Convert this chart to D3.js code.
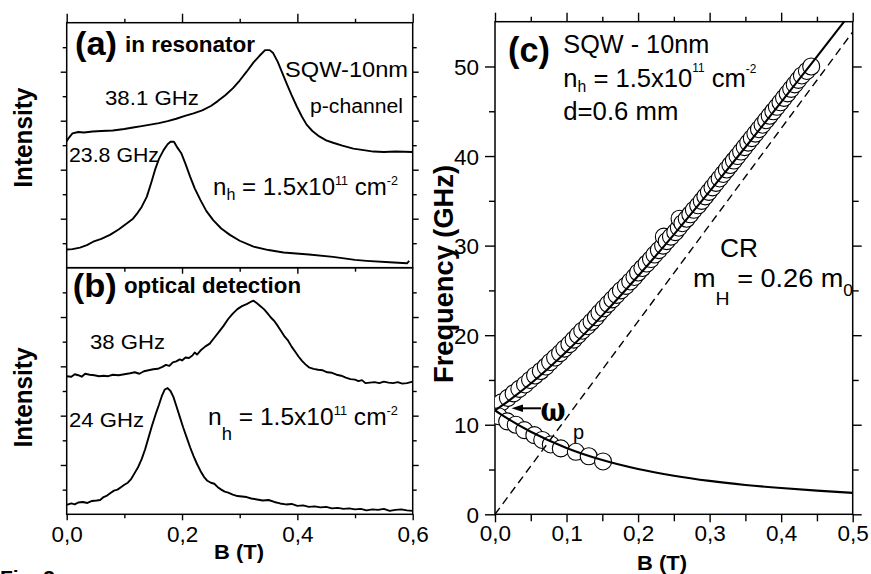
<!DOCTYPE html>
<html><head><meta charset="utf-8">
<script src="https://cdn.jsdelivr.net/npm/d3@7"></script>
<style>
body{margin:0;background:#fff}
svg{display:block}
text{font-family:"Liberation Sans",Arial,Helvetica,sans-serif;fill:#000}
</style></head><body>
<svg id="chart" width="871" height="574"></svg>
<script>
// ---------------- DATA ----------------
const bTicksLeft = [0, 0.2, 0.4, 0.6];
const bMinorLeft = [0.1, 0.3, 0.5];
const bTicksRight = [0, 0.1, 0.2, 0.3, 0.4, 0.5];
const bMinorRight = [0.05, 0.15, 0.25, 0.35, 0.45];
const freqTicks = [0, 10, 20, 30, 40, 50];
const freqMinor = [5, 15, 25, 35, 45];
const intMajor = [1, 2, 3, 4];
const intMinor = [0.5, 1.5, 2.5, 3.5, 4.5];

// (a) in resonator, 38.1 GHz
const a381B = [0.000,0.003,0.010,0.020,0.030,0.045,0.060,0.080,0.100,0.115,0.130,0.145,0.160,0.175,0.190,0.205,0.220,0.235,0.250,0.262,0.275,0.288,0.300,0.312,0.324,0.334,0.344,0.352,0.358,0.366,0.374,0.382,0.390,0.399,0.408,0.416,0.426,0.438,0.450,0.462,0.478,0.497,0.515,0.532,0.550,0.570,0.600];
const a381I = [2.58,2.64,2.74,2.77,2.76,2.78,2.79,2.80,2.83,2.86,2.89,2.92,2.95,2.99,3.04,3.10,3.15,3.21,3.30,3.40,3.52,3.66,3.82,4.00,4.19,4.32,4.44,4.44,4.38,4.20,3.97,3.74,3.52,3.29,3.08,2.92,2.79,2.68,2.60,2.55,2.49,2.43,2.40,2.37,2.36,2.37,2.36];
// (a) in resonator, 23.8 GHz
const a238B = [0.000,0.010,0.023,0.035,0.046,0.060,0.075,0.090,0.104,0.115,0.123,0.130,0.139,0.147,0.153,0.160,0.168,0.175,0.180,0.186,0.192,0.199,0.206,0.214,0.222,0.232,0.242,0.254,0.268,0.283,0.300,0.324,0.350,0.376,0.420,0.462,0.500,0.520,0.560,0.590,0.594];
const a238I = [0.37,0.38,0.41,0.46,0.53,0.59,0.67,0.78,0.90,1.00,1.12,1.24,1.45,1.75,1.99,2.22,2.40,2.52,2.57,2.57,2.45,2.33,2.12,1.86,1.62,1.38,1.16,0.97,0.80,0.67,0.55,0.43,0.36,0.31,0.27,0.22,0.16,0.14,0.11,0.09,0.14];
// (b) optical detection, 38 GHz
const b38B = [0.000,0.008,0.014,0.020,0.026,0.032,0.040,0.048,0.056,0.064,0.072,0.080,0.090,0.100,0.110,0.118,0.126,0.134,0.142,0.150,0.158,0.166,0.172,0.178,0.184,0.190,0.196,0.200,0.206,0.212,0.218,0.222,0.226,0.232,0.240,0.248,0.256,0.264,0.272,0.280,0.288,0.296,0.304,0.312,0.318,0.324,0.330,0.336,0.342,0.348,0.354,0.360,0.366,0.372,0.378,0.384,0.390,0.396,0.402,0.408,0.414,0.420,0.428,0.436,0.444,0.452,0.460,0.468,0.476,0.484,0.492,0.500,0.506,0.512,0.518,0.526,0.534,0.542,0.550,0.558,0.566,0.574,0.582,0.590,0.600];
const b38I = [2.80,2.79,2.84,2.82,2.79,2.85,2.83,2.82,2.80,2.81,2.80,2.83,2.82,2.84,2.86,2.88,2.85,2.90,2.92,2.94,2.95,2.99,3.03,3.01,3.08,3.10,3.14,3.12,3.18,3.17,3.22,3.28,3.24,3.32,3.40,3.46,3.58,3.70,3.82,3.96,4.07,4.16,4.22,4.26,4.30,4.33,4.28,4.22,4.16,4.08,3.99,3.92,3.82,3.71,3.60,3.52,3.40,3.30,3.20,3.11,3.04,2.98,2.95,2.93,2.92,2.88,2.87,2.83,2.81,2.77,2.74,2.73,2.70,2.72,2.66,2.67,2.68,2.66,2.69,2.67,2.66,2.68,2.65,2.66,2.69];
// (b) optical detection, 24 GHz
const b24B = [0.000,0.008,0.014,0.020,0.028,0.036,0.044,0.052,0.058,0.064,0.070,0.076,0.082,0.088,0.094,0.100,0.106,0.112,0.118,0.124,0.130,0.136,0.142,0.148,0.154,0.160,0.165,0.170,0.175,0.180,0.185,0.190,0.196,0.202,0.208,0.214,0.220,0.226,0.232,0.238,0.244,0.250,0.256,0.262,0.268,0.274,0.280,0.288,0.296,0.304,0.312,0.320,0.330,0.340,0.350,0.360,0.370,0.380,0.390,0.400,0.410,0.420,0.430,0.440,0.450,0.460,0.470,0.480,0.490,0.500,0.510,0.520,0.530,0.540,0.550,0.560,0.570,0.580,0.590,0.600];
const b24I = [0.19,0.22,0.20,0.24,0.25,0.23,0.27,0.28,0.29,0.35,0.38,0.43,0.48,0.50,0.55,0.60,0.64,0.72,0.84,0.96,1.12,1.32,1.56,1.80,2.02,2.22,2.40,2.53,2.56,2.50,2.38,2.20,1.98,1.76,1.56,1.36,1.18,1.02,0.88,0.76,0.68,0.64,0.62,0.55,0.50,0.46,0.44,0.40,0.37,0.36,0.35,0.32,0.30,0.28,0.29,0.25,0.22,0.20,0.21,0.17,0.18,0.15,0.16,0.14,0.15,0.12,0.13,0.11,0.12,0.10,0.11,0.08,0.10,0.09,0.11,0.07,0.09,0.10,0.08,0.07];

// (c) measured resonance positions, upper branch
const upB = [0.004,0.009,0.018,0.026,0.034,0.042,0.049,0.056,0.064,0.071,0.077,0.084,0.091,0.097,0.104,0.110,0.116,0.122,0.129,0.135,0.141,0.146,0.152,0.158,0.164,0.170,0.176,0.183,0.189,0.195,0.200,0.206,0.212,0.218,0.223,0.229,0.235,0.236,0.240,0.246,0.252,0.257,0.258,0.262,0.268,0.273,0.278,0.284,0.289,0.294,0.299,0.304,0.309,0.314,0.319,0.324,0.329,0.334,0.339,0.344,0.349,0.354,0.359,0.364,0.369,0.374,0.379,0.384,0.389,0.394,0.399,0.404,0.409,0.414,0.419,0.424,0.429,0.436,0.442];
const upF = [12.2,12.5,13.0,13.5,14.0,14.5,15.0,15.5,16.0,16.5,17.0,17.5,18.0,18.5,19.0,19.5,20.0,20.5,21.0,21.5,22.0,22.5,23.0,23.5,24.0,24.5,25.0,25.5,26.0,26.5,27.0,27.5,28.0,28.5,29.0,29.5,30.0,31.0,30.5,31.0,31.5,32.0,33.0,32.5,33.0,33.5,34.0,34.5,35.0,35.5,36.0,36.5,37.0,37.5,38.0,38.5,39.0,39.5,40.0,40.5,41.0,41.5,42.0,42.5,43.0,43.5,44.0,44.5,45.0,45.5,46.0,46.5,47.0,47.5,48.0,48.5,49.0,49.5,50.0];
// (c) measured resonance positions, lower branch
const loB = [0.005,0.017,0.029,0.041,0.055,0.066,0.078,0.092,0.113,0.131,0.151];
const loF = [10.95,10.38,10.0,9.4,8.84,8.3,7.8,7.36,6.98,6.48,5.9];
// (c) fitted magnetoplasma branches
const fitUpB = [0,0.01,0.02,0.05,0.1,0.15,0.2,0.25,0.3,0.35,0.4,0.45,0.488];
const fitUpF = [11.6,12.15,12.73,14.6,18.17,22.21,26.6,31.23,36.05,40.98,46.01,51.1,55.0];
const fitLoB = [0,0.01,0.02,0.05,0.1,0.15,0.2,0.25,0.3,0.35,0.4,0.45,0.5];
const fitLoF = [11.6,11.07,10.57,9.22,7.41,6.06,5.06,4.31,3.73,3.28,2.93,2.64,2.39];
// (c) cyclotron resonance line, m_H = 0.26 m0
const crB = [0, 0.5];
const crF = [0, 53.85];

// ---------------- DRAWING ----------------
const svg = d3.select("#chart");
svg.append("rect").attr("width", 871).attr("height", 574).attr("fill", "#fff");
const fmtComma = d => d3.format(".1f")(d).replace(".", ",");
const pairs = (a, b) => a.slice(0, Math.min(a.length, b.length)).map((v, i) => [v, b[i]]);

const xL = d3.scaleLinear().domain([0, 0.6]).range([66.7, 412.7]);
const yA = d3.scaleLinear().domain([0, 5]).range([267.7, 22.7]);
const yB = d3.scaleLinear().domain([0, 5]).range([514.3, 267.7]);
const xC = d3.scaleLinear().domain([0, 0.5]).range([495, 852.7]);
const yC = d3.scaleLinear().domain([0, 55]).range([514.3, 21.7]);

function tickRow(gen, scale, vals, size, tx, ty, fmt) {
  const ax = gen(scale).tickValues(vals).tickSize(size).tickSizeOuter(0).tickFormat(fmt || "");
  const g = svg.append("g").attr("transform", `translate(${tx},${ty})`).call(ax)
    .attr("font-size", 22.5).attr("font-family", '"Liberation Sans", Arial, sans-serif');
  g.select(".domain").remove();
  g.selectAll("line").attr("stroke", "#000").attr("stroke-width", 1.4);
  g.selectAll("text").attr("fill", "#000").style("font-size", "22.5px");
  return g;
}

// ---- left panels frames + ticks
[[yA], [yB]].forEach(([ys]) => {
  const r = ys.range();
  svg.append("rect").attr("x", xL(0)).attr("y", r[1]).attr("width", xL(0.6) - xL(0))
    .attr("height", r[0] - r[1]).attr("fill", "none").attr("stroke", "#000").attr("stroke-width", 1.5);
  tickRow(d3.axisLeft, ys, intMajor, 6, xL(0), 0);
  tickRow(d3.axisLeft, ys, intMinor, 4, xL(0), 0);
  tickRow(d3.axisRight, ys, intMajor, 6, xL(0.6), 0);
  tickRow(d3.axisRight, ys, intMinor, 4, xL(0.6), 0);
});
tickRow(d3.axisTop, xL, bTicksLeft, 9, 0, yA(5));
tickRow(d3.axisTop, xL, bMinorLeft, 4, 0, yA(5));
tickRow(d3.axisBottom, xL, bTicksLeft.slice(1, 3), 6, 0, yA(0));
tickRow(d3.axisBottom, xL, bMinorLeft, 4, 0, yA(0));
const bl = tickRow(d3.axisBottom, xL, bTicksLeft, 6, 0, yB(0), fmtComma);
bl.selectAll("text").attr("y", 28).attr("dy", null);
tickRow(d3.axisBottom, xL, bMinorLeft, 4, 0, yB(0));

// ---- panel c frame + ticks
svg.append("rect").attr("x", xC(0)).attr("y", yC(55)).attr("width", xC(0.5) - xC(0))
  .attr("height", yC(0) - yC(55)).attr("fill", "none").attr("stroke", "#000").attr("stroke-width", 1.5);
const cb = tickRow(d3.axisBottom, xC, bTicksRight, 8, 0, yC(0), fmtComma);
cb.selectAll("text").attr("y", 26.5).attr("dy", null);
tickRow(d3.axisBottom, xC, bMinorRight, 7, 0, yC(0));
tickRow(d3.axisTop, xC, bTicksRight, 9, 0, yC(55));
tickRow(d3.axisTop, xC, bMinorRight, 5, 0, yC(55));
const cl = tickRow(d3.axisLeft, yC, freqTicks, 10, xC(0), 0, d3.format("d"));
cl.selectAll("text").attr("x", -16).attr("dy", "0.36em");
tickRow(d3.axisLeft, yC, freqMinor, 6, xC(0), 0);
tickRow(d3.axisRight, yC, freqTicks, 9, xC(0.5), 0);
tickRow(d3.axisRight, yC, freqMinor, 6, xC(0.5), 0);

// ---- spectra
const lineA = d3.line().x(d => xL(d[0])).y(d => yA(d[1]));
const lineB = d3.line().x(d => xL(d[0])).y(d => yB(d[1]));
[[a381B, a381I, lineA], [a238B, a238I, lineA], [b38B, b38I, lineB], [b24B, b24I, lineB]]
  .forEach(([bx, iy, ln]) => {
    svg.append("path").attr("d", ln(pairs(bx, iy))).attr("fill", "none")
      .attr("stroke", "#000").attr("stroke-width", 1.9).attr("stroke-linejoin", "round");
  });

// ---- panel c marks
svg.append("clipPath").attr("id", "clipC").append("rect")
  .attr("x", xC(0)).attr("y", yC(55)).attr("width", xC(0.5) - xC(0)).attr("height", yC(0) - yC(55));
const gc = svg.append("g").attr("clip-path", "url(#clipC)");
gc.selectAll("circle.up").data(pairs(upB, upF)).join("circle").attr("class", "up")
  .attr("cx", d => xC(d[0])).attr("cy", d => yC(d[1])).attr("r", 8.5)
  .attr("fill", "#fff").attr("stroke", "#000").attr("stroke-width", 1.1);
gc.selectAll("circle.lo").data(pairs(loB, loF)).join("circle").attr("class", "lo")
  .attr("cx", d => xC(d[0])).attr("cy", d => yC(d[1])).attr("r", 8.5)
  .attr("fill", "#fff").attr("stroke", "#000").attr("stroke-width", 1.1);
const lineC = d3.line().x(d => xC(d[0])).y(d => yC(d[1]));
gc.append("path").attr("d", lineC(pairs(crB, crF))).attr("fill", "none").attr("stroke", "#000")
  .attr("stroke-width", 1.4).attr("stroke-dasharray", "8,5");
const fitLine = d3.line().x(d => xC(d[0])).y(d => yC(d[1])).curve(d3.curveMonotoneX);
[[fitUpB, fitUpF], [fitLoB, fitLoF]].forEach(([bx, fy]) => {
  gc.append("path").attr("d", fitLine(pairs(bx, fy))).attr("fill", "none")
    .attr("stroke", "#000").attr("stroke-width", 2.1);
});

// ---- text helpers
function txt(x, y, s, size, opt = {}) {
  const t = svg.append("text").attr("x", x).attr("y", y).text(s).style("font-size", size + "px");
  if (opt.bold) t.style("font-weight", "bold");
  if (opt.len) t.attr("textLength", opt.len).attr("lengthAdjust", "spacingAndGlyphs");
  if (opt.rot) t.attr("transform", `rotate(-90,${x},${y})`).attr("text-anchor", "middle");
  if (opt.anchor) t.attr("text-anchor", opt.anchor);
  if (opt.family) t.style("font-family", opt.family);
  return t;
}
function rich(x, y, size, parts, len) {
  const t = svg.append("text").attr("x", x).attr("y", y).style("font-size", size + "px");
  if (len) t.attr("textLength", len).attr("lengthAdjust", "spacingAndGlyphs");
  let cur = 0;
  parts.forEach(([s, fs, shift]) => {
    t.append("tspan").attr("dy", shift - cur).style("font-size", fs + "px").text(s);
    cur = shift;
  });
  return t;
}

// axis titles
txt(32, 137.7, "Intensity", 25, { bold: true, rot: true, len: 100 });
txt(32, 397.5, "Intensity", 25, { bold: true, rot: true, len: 100 });
txt(453, 274, "Frequency (GHz)", 27, { bold: true, rot: true, len: 218 });
txt(239, 558.5, "B (T)", 21, { bold: true, anchor: "middle", len: 50 });
txt(662, 569.5, "B (T)", 21, { bold: true, anchor: "middle", len: 50 });

// panel (a)
txt(75, 55, "(a)", 34, { bold: true, len: 42 });
txt(125, 51.7, "in resonator", 22.5, { bold: true, len: 130 });
txt(105, 105, "38.1 GHz", 20.5, { len: 94 });
txt(285, 77, "SQW-10nm", 21.5, { len: 123 });
txt(310, 113, "p-channel", 19.5, { len: 93 });
txt(69, 161.7, "23.8 GHz", 20.5, { len: 90 });
rich(213, 195, 24, [["n", 24, 0], ["h", 16, 5], [" = 1.5x10", 24, 0], ["11", 12.5, -10], [" cm", 24, 0], ["-2", 12.5, -10]], 185);

// panel (b)
txt(72.7, 297, "(b)", 34, { bold: true, len: 44 });
txt(124, 293, "optical detection", 22.3, { bold: true, len: 177 });
txt(90, 349.3, "38 GHz", 21, { len: 75 });
txt(69, 427.3, "24 GHz", 21, { len: 75 });
rich(208, 425, 24, [["n", 24, 0], ["h", 18, 15], [" = 1.5x10", 24, 0], ["11", 12.5, -10], [" cm", 24, 0], ["-2", 12.5, -10]], 190);

// panel (c)
txt(508, 62, "(c)", 35, { bold: true, len: 42 });
txt(563.3, 53.3, "SQW - 10nm", 25.5, { len: 146 });
rich(563.3, 87.3, 26, [["n", 26, 0], ["h", 16, 4.5], [" = 1.5x10", 26, 0], ["11", 12, -15], [" cm", 26, 0], ["-2", 12, -14]], 193);
txt(563.3, 120, "d=0.6 mm", 25.5, { len: 115 });
txt(720, 256.7, "CR", 26.5, { len: 38 });
rich(693, 286.7, 26.5, [["m", 26.5, 0], ["H", 19, 18], [" = 0.26 m", 26.5, 0], ["0", 17, 9]], 160);

// omega_p annotation with arrow
svg.append("line").attr("x1", 541).attr("y1", 408.3).attr("x2", 520).attr("y2", 408.3)
  .attr("stroke", "#000").attr("stroke-width", 2);
svg.append("path").attr("d", "M511.5,408.3 L523,404.5 L523,412.1 Z").attr("fill", "#000");
txt(540.5, 421, "ω", 34, { family: '"DejaVu Serif","Liberation Serif",serif', len: 25, bold: true });
txt(573, 439, "p", 20);

// caption fragment at bottom
txt(0, 585, "Fig. 3", 21, { bold: true });
</script>
</body></html>
